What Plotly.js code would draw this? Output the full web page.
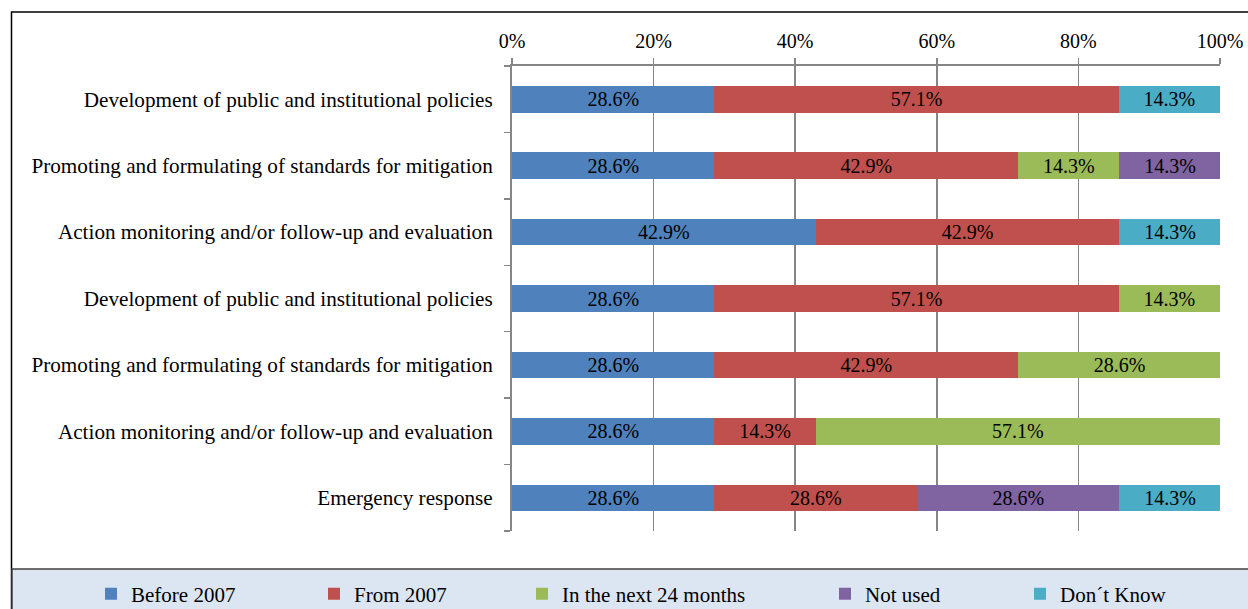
<!DOCTYPE html>
<html>
<head>
<meta charset="utf-8">
<script src="https://cdn.plot.ly/plotly-3.0.1.min.js"></script>
<style>
html, body { margin: 0; padding: 0; background: #ffffff; }
#chart { width: 1248px; height: 609px; }
</style>
</head>
<body>
<div id="chart"></div>
<script>
// ---- data ----
const categories = [
  "Development of public and institutional policies",
  "Promoting and formulating of standards for mitigation",
  "Action monitoring and/or follow-up and evaluation",
  "Development of public and institutional policies",
  "Promoting and formulating of standards for mitigation",
  "Action monitoring and/or follow-up and evaluation",
  "Emergency response"
];
const seriesNames = ["Before 2007", "From 2007", "In the next 24 months", "Not used", "Don\u00b4t Know"];
const before2007 = [28.6, 28.6, 42.9, 28.6, 28.6, 28.6, 28.6];
const from2007   = [57.1, 42.9, 42.9, 57.1, 42.9, 14.3, 28.6];
const next24     = [0,    14.3, 0,    14.3, 28.6, 57.1, 0];
const notUsed    = [0,    14.3, 0,    0,    0,    0,    28.6];
const dontKnow   = [14.3, 0,    14.3, 0,    0,    0,    14.3];
const xTicks = [0, 20, 40, 60, 80, 100];
const colors = ["#4f81bd", "#c0504d", "#9bbb59", "#8064a2", "#4bacc6"];

// ---- layout helpers (pixel geometry of the plot area) ----
const W = 1248, H = 609;
const L = 512, R = 28, T = 66, B = 78;
const PW = W - L - R, PH = H - T - B;
const px = v => (v - L) / PW;
const py = v => (H - B - v) / PH;

const FONT = "Liberation Serif, Times New Roman, serif";
const yIdx = categories.map((c, i) => i);
const allSeries = [before2007, from2007, next24, notUsed, dontKnow];
const legendLefts = [117, 340, 548, 851, 1046];

const traces = allSeries.map((vals, k) => ({
  type: "bar",
  orientation: "h",
  name: seriesNames[k],
  y: yIdx,
  x: vals.map(v => (v === 0 ? null : v)),
  marker: { color: colors[k], line: { width: 0 } },
  texttemplate: "%{x:.1f}%",
  textposition: "inside",
  insidetextanchor: "middle",
  textangle: 0,
  constraintext: "none",
  textfont: { family: FONT, size: 20, color: "#000000" },
  hoverinfo: "skip",
  legend: k === 0 ? "legend" : "legend" + (k + 1)
}));

const layout = {
  width: W, height: H,
  margin: { l: L, r: R, t: T, b: B, pad: 0, autoexpand: false },
  paper_bgcolor: "#ffffff",
  plot_bgcolor: "#ffffff",
  barmode: "stack",
  bargap: 0.6,
  font: { family: FONT, size: 20, color: "#000000" },
  showlegend: true,
  xaxis: {
    side: "top",
    range: [0, 100],
    tickmode: "array",
    tickvals: xTicks,
    ticktext: xTicks.map(v => v + "%"),
    ticks: "outside",
    ticklen: 6,
    tickwidth: 1.5,
    tickcolor: "#868686",
    ticklabelstandoff: 2,
    showgrid: true,
    gridcolor: "#868686",
    gridwidth: 1.5,
    showline: true,
    linecolor: "#868686",
    linewidth: 2,
    zeroline: false,
    automargin: false,
    tickfont: { family: FONT, size: 20, color: "#000000" },
    fixedrange: true
  },
  yaxis: {
    range: [categories.length - 0.5, -0.5],
    tickmode: "array",
    tickvals: yIdx,
    ticktext: categories,
    ticks: "",
    ticklabelstandoff: 13,
    minor: { tickmode: "linear", tick0: -0.5, dtick: 1, ticks: "outside", ticklen: 6, tickwidth: 1.5, tickcolor: "#868686", showgrid: false },
    showgrid: false,
    showline: true,
    linecolor: "#868686",
    linewidth: 2,
    zeroline: false,
    automargin: false,
    tickfont: { family: FONT, size: 21.2, color: "#000000" },
    fixedrange: true
  },
  shapes: [
    {
      type: "rect", xref: "paper", yref: "paper", layer: "below",
      x0: px(11.5), x1: px(1260), y0: py(620), y1: py(12),
      line: { color: "#000000", width: 1.5 }, fillcolor: "rgba(0,0,0,0)"
    },
    {
      type: "rect", xref: "paper", yref: "paper", layer: "below",
      x0: px(12), x1: px(1260), y0: py(620), y1: py(569),
      line: { color: "#3f3f3f", width: 1.5 }, fillcolor: "#dce6f2"
    }
  ]
};

seriesNames.forEach((n, k) => {
  const key = k === 0 ? "legend" : "legend" + (k + 1);
  layout[key] = {
    x: px(legendLefts[k] - 26),
    xanchor: "left",
    y: py(594),
    yanchor: "middle",
    orientation: "h",
    bgcolor: "rgba(0,0,0,0)",
    borderwidth: 0,
    font: { family: FONT, size: 21, color: "#000000" }
  };
});

Plotly.newPlot("chart", traces, layout, { displayModeBar: false, staticPlot: true });
</script>
</body>
</html>
